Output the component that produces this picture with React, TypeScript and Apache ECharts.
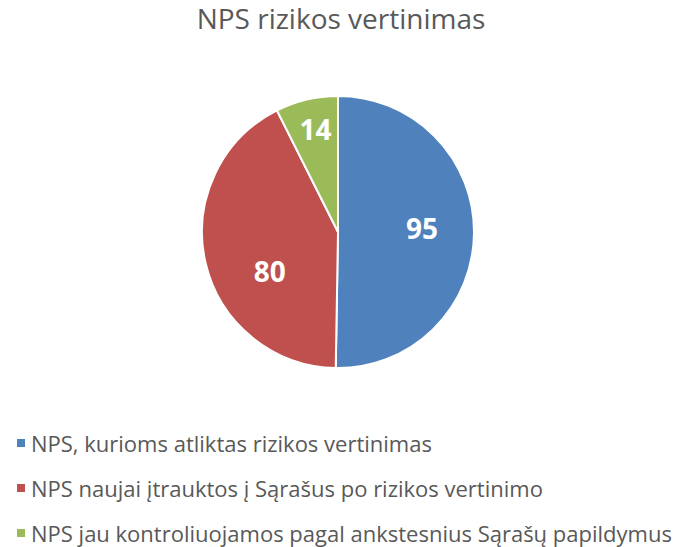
import React, { useEffect, useRef } from "react";
import * as echarts from "echarts";

const categories = [
  "NPS, kurioms atliktas rizikos vertinimas",
  "NPS naujai įtrauktos į Sąrašus po rizikos vertinimo",
  "NPS jau kontroliuojamos pagal ankstesnius Sąrašų papildymus",
];
const values = [95, 80, 14];
const colors = ["#4F81BD", "#C0504D", "#9BBB59"];

export default function App() {
  const ref = useRef<HTMLDivElement>(null);
  useEffect(() => {
    document.body.style.margin = "0";
    if (!ref.current) return;
    const chart = echarts.init(ref.current, undefined, { renderer: "svg" });
    const labelOffsets = [
      [13, -5],
      [1, 23],
      [-6, -34],
    ];
    chart.setOption({
      animation: false,
      backgroundColor: "#ffffff",
      title: {
        text: "NPS rizikos vertinimas",
        left: 341,
        textAlign: "center",
        top: 4,
        padding: 0,
        textStyle: {
          fontFamily: "Open Sans",
          fontSize: 28,
          fontWeight: "normal",
          color: "#595959",
        },
      },
      legend: {
        orient: "vertical",
        left: 15,
        top: 431,
        padding: 0,
        itemWidth: 10,
        itemHeight: 10,
        itemGap: 21,
        icon: "rect",
        data: categories,
        textStyle: {
          fontFamily: "Open Sans",
          fontSize: 22,
          color: "#595959",
          lineHeight: 24,
        },
      },
      series: [
        {
          type: "pie",
          center: [338, 232],
          radius: 136,
          startAngle: 90,
          clockwise: true,
          itemStyle: { borderColor: "#ffffff", borderWidth: 2 },
          label: {
            show: true,
            position: "inside",
            formatter: "{c}",
            color: "#ffffff",
            fontFamily: "Open Sans",
            fontWeight: "bold",
            fontSize: 28,
          },
          labelLine: { show: false },
          emphasis: { disabled: true },
          data: categories.map((name, i) => ({
            name,
            value: values[i],
            itemStyle: { color: colors[i] },
            label: { offset: labelOffsets[i] },
          })),
        },
      ],
    });
    return () => chart.dispose();
  }, []);
  return <div ref={ref} style={{ width: 676, height: 547 }} />;
}
